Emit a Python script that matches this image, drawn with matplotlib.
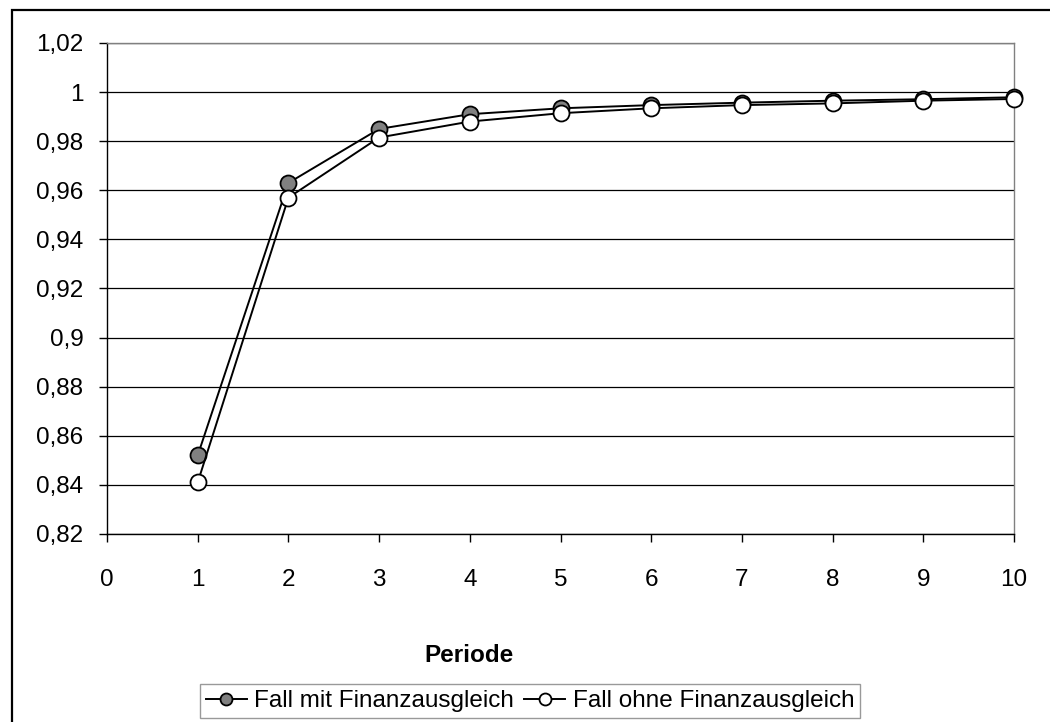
import numpy as np
import matplotlib.pyplot as plt
from matplotlib.patches import Rectangle
from matplotlib.ticker import FuncFormatter

plt.rcParams['font.family'] = ['Liberation Sans', 'DejaVu Sans']

perioden = [1, 2, 3, 4, 5, 6, 7, 8, 9, 10]
mit_fa = [0.852, 0.963, 0.985, 0.991, 0.9934, 0.9947, 0.9957, 0.9965, 0.9971, 0.9979]
ohne_fa = [0.841, 0.957, 0.9815, 0.988, 0.9914, 0.9934, 0.9947, 0.9954, 0.9965, 0.9972]
labels = ['Fall mit Finanzausgleich', 'Fall ohne Finanzausgleich']

fig = plt.figure(figsize=(10.5, 7.22), dpi=100)
ax = fig.add_axes([107/1050, 1 - 534/722, (1014 - 107)/1050, (534 - 43)/722])

ax.plot(perioden, mit_fa, color='black', lw=1.4, marker='o', ms=11.5,
        mfc='#808080', mec='black', mew=1.3, clip_on=False, zorder=3, label=labels[0])
ax.plot(perioden, ohne_fa, color='black', lw=1.4, marker='o', ms=11.5,
        mfc='white', mec='black', mew=1.3, clip_on=False, zorder=4, label=labels[1])

ax.set_xlim(0, 10)
ax.set_ylim(0.82, 1.02)
ax.set_xticks(np.arange(0, 11, 1))
ax.set_yticks(np.arange(0.82, 1.0201, 0.02))
ax.yaxis.set_major_formatter(FuncFormatter(lambda v, p: f"{round(v, 2):g}".replace('.', ',')))

ax.grid(axis='y', color='black', lw=0.9)
ax.set_axisbelow(True)
for s in ['top', 'right']:
    ax.spines[s].set_color('#808080')
    ax.spines[s].set_linewidth(1.0)
for s in ['left', 'bottom']:
    ax.spines[s].set_color('black')
    ax.spines[s].set_linewidth(1.0)

ax.tick_params(axis='both', direction='out', length=6, width=1.0, labelsize=17.5)
ax.tick_params(axis='y', pad=11)
ax.tick_params(axis='x', pad=19)

fig.text(469/1050, 1 - 655/722, 'Periode', ha='center', va='center',
         fontsize=17.5, fontweight='bold')

leg = fig.legend(loc='center', bbox_to_anchor=(530/1050, 1 - 701/722), ncol=2,
                 fontsize=17.5, markerscale=0.75, handlelength=1.7, handletextpad=0.3,
                 columnspacing=0.4, borderpad=0.25, fancybox=False, frameon=True)
leg.get_frame().set_edgecolor('#808080')
leg.get_frame().set_linewidth(1.0)

# outer chart frame
fig.patches.append(Rectangle((12/1050, -0.5), 2, 1.5 - 10/722, transform=fig.transFigure,
                             fill=False, edgecolor='black', lw=1.6))

fig.savefig('out.png', dpi=100)
